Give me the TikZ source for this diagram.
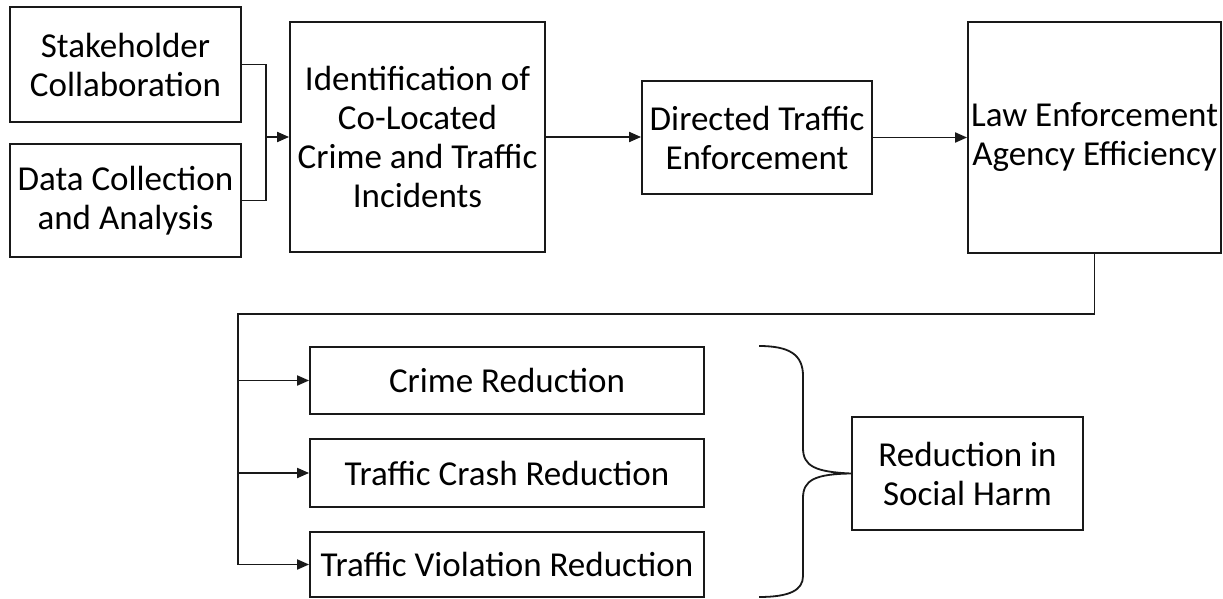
\documentclass[tikz,border=0pt]{standalone}
\usepackage{fontspec}
\setmainfont{Carlito}
\usetikzlibrary{arrows.meta}
\begin{document}
\begin{tikzpicture}[x=1pt,y=-1pt,
  box/.style={draw=black!90,line width=1.8pt,rectangle,align=center,inner sep=0pt,
    font=\fontsize{35}{39}\selectfont},
  conn/.style={line width=1.8pt,draw=black!90},
  arr/.style={line width=1.8pt,draw=black!90,-{Triangle[length=12pt,width=10pt]}}]
\useasboundingbox (0,0) rectangle (1223,599);
\node[box,minimum width=231pt,minimum height=115pt] (stake) at (125.5,64.5) {Stakeholder\\Collaboration};
\node[box,minimum width=231pt,minimum height=113pt] (data) at (125.5,200.5) {Data Collection\\and Analysis};
\node[box,minimum width=255pt,minimum height=230pt] (ident) at (417.5,137) {Identification of\\Co-Located\\Crime and Traffic\\Incidents};
\node[box,minimum width=230pt,minimum height=113pt] (dir) at (757,137.5) {Directed Traffic\\Enforcement};
\node[box,minimum width=253pt,minimum height=231pt] (law) at (1094.5,137.5) {Law Enforcement\\Agency Efficiency};
\node[box,minimum width=394pt,minimum height=67pt] (crime) at (507,380.5) {Crime Reduction};
\node[box,minimum width=394pt,minimum height=68pt] (crash) at (507,473) {Traffic Crash Reduction};
\node[box,minimum width=394pt,minimum height=65pt] (viol) at (507,564.5) {Traffic Violation Reduction};
\node[box,minimum width=231pt,minimum height=113pt] (harm) at (967.5,473.5) {Reduction in\\Social Harm};
\coordinate (j1) at (266,137);
\coordinate (c1) at (238,314);
\draw[conn] (stake.east) -| (j1);
\draw[conn] (data.east) -| (j1);
\draw[arr] (j1) -- (ident.west);
\draw[arr] (ident.east) -- (ident.east -| dir.west);
\draw[arr] (dir.east) -- (dir.east -| law.west);
\draw[arr] (law.south) |- (c1) |- (viol.west);
\draw[arr] (c1 |- crime.west) -- (crime.west);
\draw[arr] (c1 |- crash.west) -- (crash.west);
\coordinate (bt) at (759,346);
\coordinate (bb) at (759,597);
\draw[conn] (bt) .. controls (790,346) and (803,355) .. (803,376) -- (803,448)
  .. controls (803,466) and (815,472) .. (harm.west)
  .. controls (815,474) and (803,480) .. (803,498) -- (803,576)
  .. controls (803,590) and (790,597) .. (bb);
\end{tikzpicture}
\end{document}
